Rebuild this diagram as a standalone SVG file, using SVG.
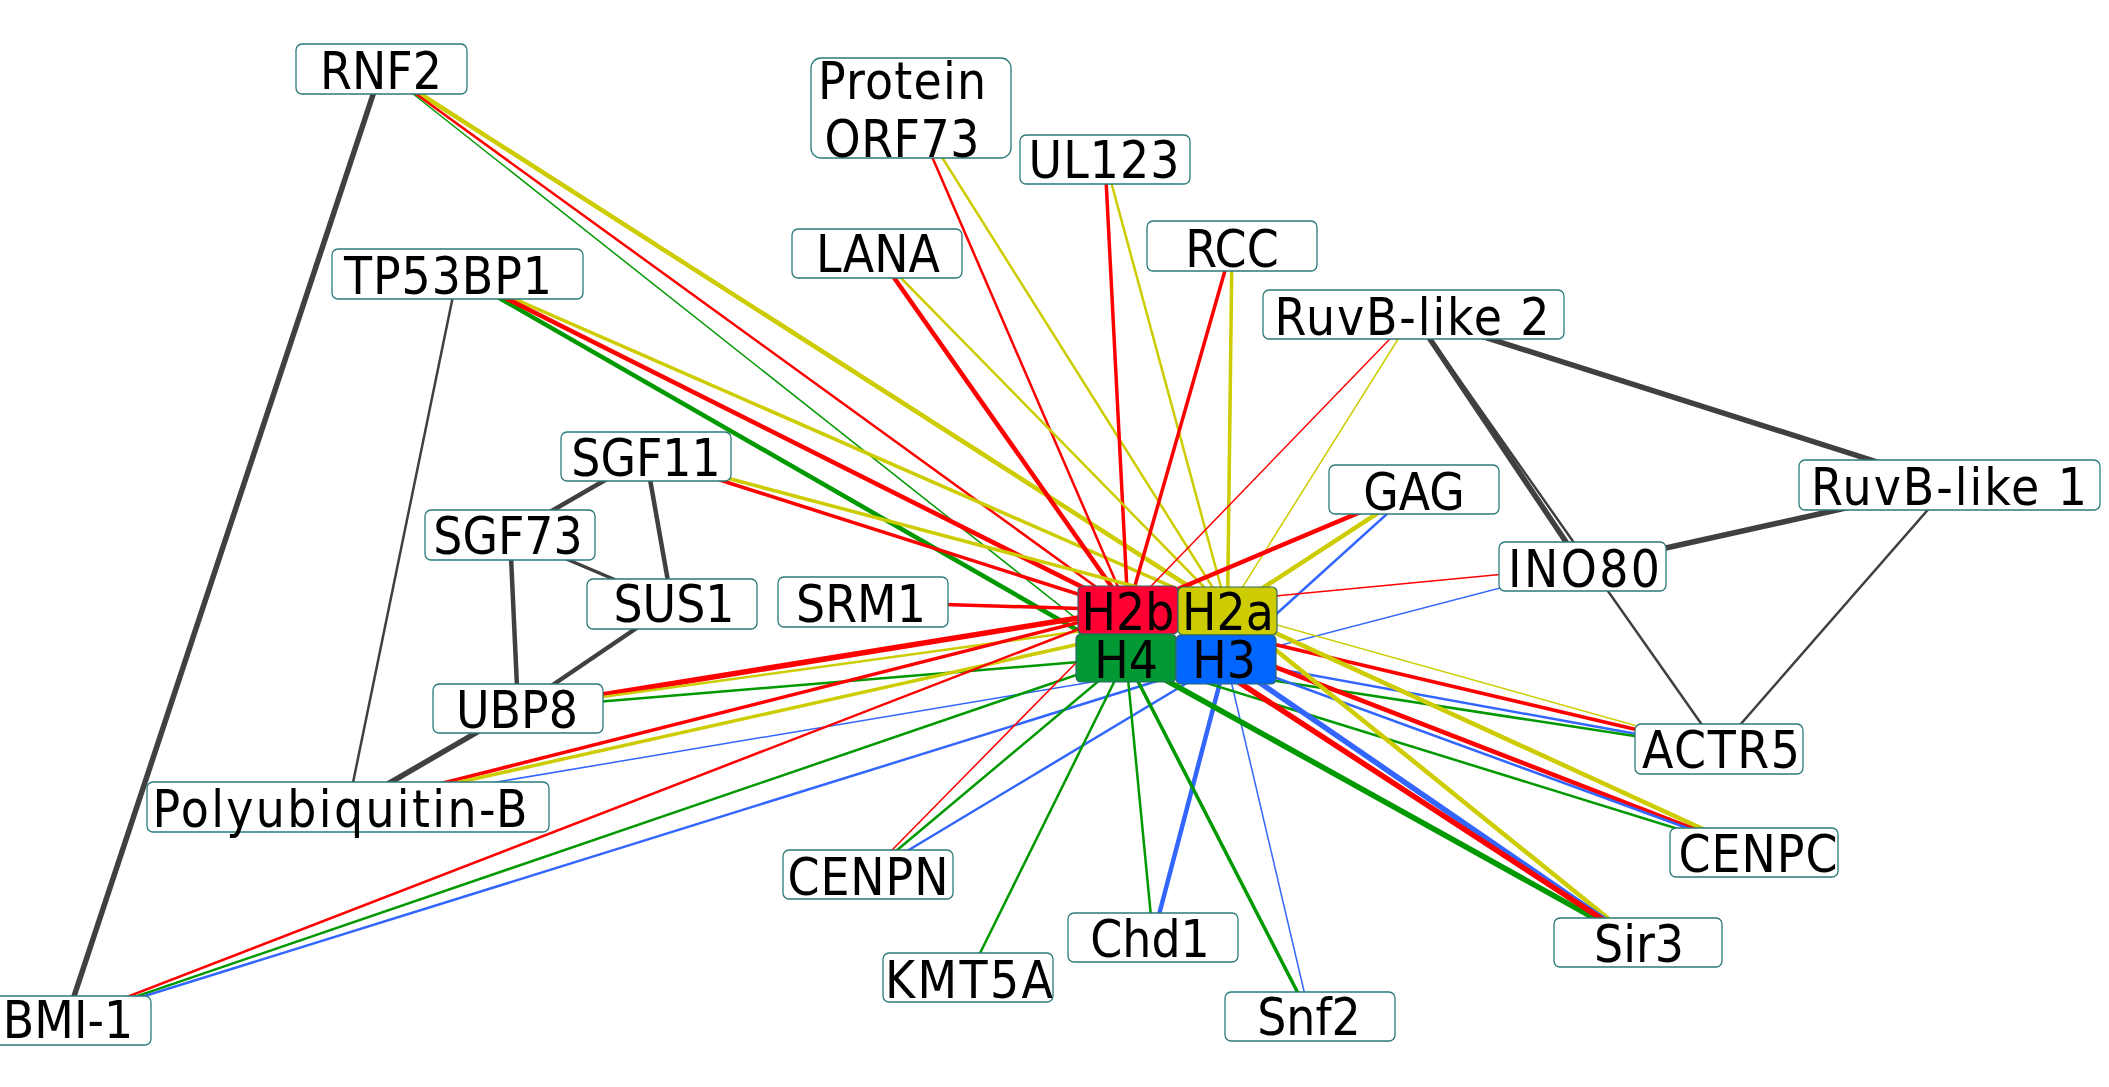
<svg xmlns="http://www.w3.org/2000/svg" width="2109" height="1087" viewBox="0 0 2109 1087">
<style>
.n rect{fill:#ffffff;stroke:#2a7a7a;stroke-width:1.3}
.h rect{stroke:#2f6666;stroke-width:1.2}
text{font-family:"DejaVu Sans Condensed","DejaVu Sans",sans-serif;font-stretch:condensed;font-size:51px;fill:#000;text-anchor:middle}
#connectors line{fill:none}
.r{stroke:#ff0000}.y{stroke:#cccc00}.g{stroke:#009900}.b{stroke:#3366ff}.k{stroke:#404040}
.t1{stroke-width:1.5}.t2{stroke-width:2.5}.t3{stroke-width:3.5}.t4{stroke-width:4.5}.t5{stroke-width:5.5}
</style>
<rect x="0" y="0" width="2109" height="1087" fill="#ffffff"/>
<g id="connectors">
<line class="k t5" x1="381.5" y1="69" x2="66" y2="1020.5"/>
<line class="k t2" x1="457.5" y1="274" x2="348" y2="807"/>
<line class="k t4" x1="646" y1="456.5" x2="510" y2="535"/>
<line class="k t4" x1="646" y1="456.5" x2="672" y2="604"/>
<line class="k t3" x1="510" y1="535" x2="672" y2="604"/>
<line class="k t4" x1="510" y1="535" x2="518" y2="708.5"/>
<line class="k t4" x1="672" y1="604" x2="518" y2="708.5"/>
<line class="k t5" x1="518" y1="708.5" x2="348" y2="807"/>
<line class="k t5" x1="1413.5" y1="314.5" x2="1582.5" y2="566.5"/>
<line class="k t2" x1="1413.5" y1="314.5" x2="1719" y2="749"/>
<line class="k t5" x1="1413.5" y1="314.5" x2="1949.5" y2="485"/>
<line class="k t5" x1="1949.5" y1="485" x2="1582.5" y2="566.5"/>
<line class="k t2" x1="1949.5" y1="485" x2="1719" y2="749"/>
<line class="y t4" x1="381.5" y1="69" x2="1227.5" y2="611"/>
<line class="r t2" x1="381.5" y1="69" x2="1128" y2="610"/>
<line class="g t1" x1="381.5" y1="69" x2="1126" y2="658"/>
<line class="y t3" x1="457.5" y1="274" x2="1227.5" y2="611"/>
<line class="g t4" x1="457.5" y1="274" x2="1126" y2="658"/>
<line class="r t4" x1="457.5" y1="274" x2="1128" y2="610"/>
<line class="r t2" x1="911" y1="108" x2="1128" y2="610"/>
<line class="y t2" x1="911" y1="108" x2="1227.5" y2="611"/>
<line class="r t3" x1="1105" y1="159.5" x2="1128" y2="610"/>
<line class="y t2" x1="1105" y1="159.5" x2="1227.5" y2="611"/>
<line class="r t4" x1="877" y1="253.5" x2="1128" y2="610"/>
<line class="y t2" x1="877" y1="253.5" x2="1227.5" y2="611"/>
<line class="r t3" x1="1232" y1="246" x2="1128" y2="610"/>
<line class="y t3" x1="1232" y1="246" x2="1227.5" y2="611"/>
<line class="r t1" x1="1413.5" y1="314.5" x2="1128" y2="610"/>
<line class="y t1" x1="1413.5" y1="314.5" x2="1227.5" y2="611"/>
<line class="r t4" x1="1414" y1="489.5" x2="1128" y2="610"/>
<line class="y t4" x1="1414" y1="489.5" x2="1227.5" y2="611"/>
<line class="b t2" x1="1414" y1="489.5" x2="1226" y2="659.5"/>
<line class="r t1" x1="1582.5" y1="566.5" x2="1128" y2="610"/>
<line class="b t1" x1="1582.5" y1="566.5" x2="1226" y2="659.5"/>
<line class="r t3" x1="646" y1="456.5" x2="1128" y2="610"/>
<line class="y t3" x1="646" y1="456.5" x2="1227.5" y2="611"/>
<line class="r t3" x1="863" y1="602" x2="1128" y2="610"/>
<line class="r t5" x1="518" y1="708.5" x2="1128" y2="610"/>
<line class="y t2" x1="518" y1="708.5" x2="1227.5" y2="611"/>
<line class="g t2" x1="518" y1="708.5" x2="1126" y2="658"/>
<line class="r t3" x1="348" y1="807" x2="1128" y2="610"/>
<line class="y t3" x1="348" y1="807" x2="1227.5" y2="611"/>
<line class="b t1" x1="348" y1="807" x2="1226" y2="659.5"/>
<line class="r t2" x1="66" y1="1020.5" x2="1128" y2="610"/>
<line class="g t2" x1="66" y1="1020.5" x2="1126" y2="658"/>
<line class="b t2" x1="66" y1="1020.5" x2="1226" y2="659.5"/>
<line class="r t1" x1="868" y1="874.5" x2="1128" y2="610"/>
<line class="g t2" x1="868" y1="874.5" x2="1126" y2="658"/>
<line class="b t2" x1="868" y1="874.5" x2="1226" y2="659.5"/>
<line class="g t2" x1="968" y1="977.5" x2="1126" y2="658"/>
<line class="g t2" x1="1153" y1="937.5" x2="1126" y2="658"/>
<line class="b t4" x1="1153" y1="937.5" x2="1226" y2="659.5"/>
<line class="g t3" x1="1310" y1="1016.5" x2="1126" y2="658"/>
<line class="b t1" x1="1310" y1="1016.5" x2="1226" y2="659.5"/>
<line class="y t1" x1="1719" y1="749" x2="1227.5" y2="611"/>
<line class="r t3" x1="1719" y1="749" x2="1128" y2="610"/>
<line class="b t2" x1="1719" y1="749" x2="1226" y2="659.5"/>
<line class="g t2" x1="1719" y1="749" x2="1126" y2="658"/>
<line class="y t4" x1="1754" y1="852.5" x2="1227.5" y2="611"/>
<line class="r t4" x1="1754" y1="852.5" x2="1128" y2="610"/>
<line class="b t2" x1="1754" y1="852.5" x2="1226" y2="659.5"/>
<line class="g t2" x1="1754" y1="852.5" x2="1126" y2="658"/>
<line class="g t5" x1="1638" y1="942.5" x2="1126" y2="658"/>
<line class="y t4" x1="1638" y1="942.5" x2="1227.5" y2="611"/>
<line class="b t5" x1="1638" y1="942.5" x2="1226" y2="659.5"/>
<line class="r t5" x1="1638" y1="942.5" x2="1128" y2="610"/>
</g>
<g id="node-RNF2" class="n"><rect x="296" y="44" width="171" height="50" rx="6"/><text x="381" y="89">RNF2</text></g>
<g id="node-TP53BP1" class="n"><rect x="332" y="249" width="251" height="50" rx="6"/><text x="448" y="294" textLength="208" lengthAdjust="spacing">TP53BP1</text></g>
<g id="node-ProteinORF73" class="n"><rect x="811" y="58" width="200" height="100" rx="10"/><text x="902" y="99" textLength="168" lengthAdjust="spacing">Protein</text><text x="902" y="157" textLength="155" lengthAdjust="spacing">ORF73</text></g>
<g id="node-UL123" class="n"><rect x="1020" y="135" width="170" height="49" rx="6"/><text x="1104" y="178" textLength="151" lengthAdjust="spacing">UL123</text></g>
<g id="node-LANA" class="n"><rect x="792" y="229" width="170" height="49" rx="6"/><text x="878" y="272">LANA</text></g>
<g id="node-RCC" class="n"><rect x="1147" y="221" width="170" height="50" rx="6"/><text x="1232" y="267">RCC</text></g>
<g id="node-RuvB-like2" class="n"><rect x="1263" y="290" width="301" height="49" rx="6"/><text x="1412" y="335" textLength="275" lengthAdjust="spacing">RuvB-like 2</text></g>
<g id="node-GAG" class="n"><rect x="1329" y="465" width="170" height="49" rx="6"/><text x="1414" y="510">GAG</text></g>
<g id="node-INO80" class="n"><rect x="1499" y="542" width="167" height="49" rx="6"/><text x="1584" y="587" textLength="152" lengthAdjust="spacing">INO80</text></g>
<g id="node-RuvB-like1" class="n"><rect x="1799" y="460" width="301" height="50" rx="6"/><text x="1949" y="505" textLength="276" lengthAdjust="spacing">RuvB-like 1</text></g>
<g id="node-SGF11" class="n"><rect x="561" y="432" width="170" height="49" rx="6"/><text x="646" y="476">SGF11</text></g>
<g id="node-SGF73" class="n"><rect x="425" y="510" width="170" height="50" rx="6"/><text x="508" y="554">SGF73</text></g>
<g id="node-SUS1" class="n"><rect x="587" y="579" width="170" height="50" rx="6"/><text x="674" y="622">SUS1</text></g>
<g id="node-UBP8" class="n"><rect x="433" y="684" width="170" height="49" rx="6"/><text x="517" y="728">UBP8</text></g>
<g id="node-Polyubiquitin-B" class="n"><rect x="147" y="782" width="402" height="50" rx="6"/><text x="340" y="827" textLength="375" lengthAdjust="spacing">Polyubiquitin-B</text></g>
<g id="node-SRM1" class="n"><rect x="778" y="577" width="170" height="50" rx="6"/><text x="861" y="622">SRM1</text></g>
<g id="node-BMI-1" class="n"><rect x="-19" y="996" width="170" height="49" rx="6"/><text x="68" y="1038">BMI-1</text></g>
<g id="node-CENPN" class="n"><rect x="783" y="850" width="170" height="49" rx="6"/><text x="868" y="895" textLength="161" lengthAdjust="spacing">CENPN</text></g>
<g id="node-KMT5A" class="n"><rect x="883" y="953" width="170" height="49" rx="6"/><text x="969" y="998" textLength="168" lengthAdjust="spacing">KMT5A</text></g>
<g id="node-Chd1" class="n"><rect x="1068" y="913" width="170" height="49" rx="6"/><text x="1150" y="957">Chd1</text></g>
<g id="node-Snf2" class="n"><rect x="1225" y="992" width="170" height="49" rx="6"/><text x="1309" y="1035">Snf2</text></g>
<g id="node-ACTR5" class="n"><rect x="1635" y="724" width="168" height="50" rx="6"/><text x="1721" y="768" textLength="158" lengthAdjust="spacing">ACTR5</text></g>
<g id="node-CENPC" class="n"><rect x="1670" y="828" width="168" height="49" rx="6"/><text x="1758" y="872" textLength="159" lengthAdjust="spacing">CENPC</text></g>
<g id="node-Sir3" class="n"><rect x="1554" y="918" width="168" height="49" rx="6"/><text x="1639" y="962">Sir3</text></g>
<g id="node-H2b" class="h"><rect x="1078" y="586" width="100" height="48" rx="5" fill="#ff0033"/><text x="1128" y="630">H2b</text></g>
<g id="node-H2a" class="h"><rect x="1178" y="587" width="99" height="48" rx="5" fill="#cccc00"/><text x="1228" y="630">H2a</text></g>
<g id="node-H4" class="h"><rect x="1076" y="634" width="100" height="48" rx="5" fill="#009933"/><text x="1126" y="678">H4</text></g>
<g id="node-H3" class="h"><rect x="1176" y="635" width="100" height="49" rx="5" fill="#0066ff"/><text x="1224" y="678">H3</text></g>
</svg>
